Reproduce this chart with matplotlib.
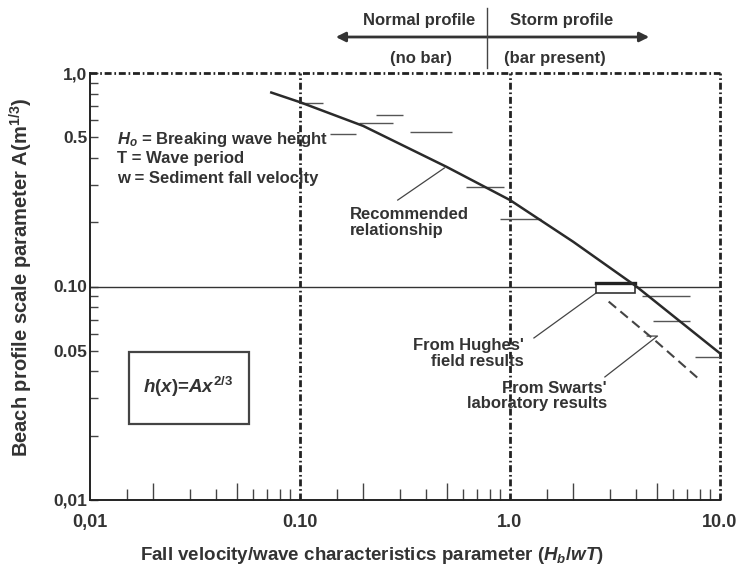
import matplotlib.pyplot as plt
from matplotlib.patches import FancyArrowPatch, Rectangle

plt.rcParams["font.family"] = ["Liberation Sans", "DejaVu Sans"]
plt.rcParams["font.weight"] = "bold"
plt.rcParams["mathtext.fontset"] = "custom"
plt.rcParams["mathtext.rm"] = "Liberation Sans:bold"
plt.rcParams["mathtext.it"] = "Liberation Sans:italic:bold"
plt.rcParams["mathtext.bf"] = "Liberation Sans:bold"
plt.rcParams["lines.scale_dashes"] = False

INK = "#333333"
DASHDOT = (0, (5, 2, 1.2, 2))
W, H = 741, 578

# recommended relationship, A against Hb/wT
curve_x = [0.073, 0.10, 0.20, 0.50, 1.0, 2.0, 4.0, 9.9]
curve_y = [0.81, 0.73, 0.565, 0.363, 0.254, 0.162, 0.100, 0.049]

# data ranges: x from, x to, A
seg_x0 = [0.100, 0.229, 0.192, 0.139, 0.333, 0.62, 0.90, 4.27, 4.8, 7.6]
seg_x1 = [0.128, 0.309, 0.276, 0.184, 0.527, 0.935, 1.40, 7.23, 7.23, 10.0]
seg_y = [0.72, 0.636, 0.583, 0.518, 0.529, 0.292, 0.207, 0.090, 0.069, 0.047]

# Hughes' field box, Swarts' lab line
hughes_x = [2.58, 3.94]
hughes_y = [0.0935, 0.1035]
swarts_x = [2.95, 5.0, 7.9]
swarts_y = [0.085, 0.055, 0.037]

xticks = [0.01, 0.1, 1.0, 10.0]
xtick_labels = ["0,01", "0.10", "1.0", "10.0"]
yticks = [0.01, 0.05, 0.1, 0.5, 1.0]
ytick_labels = ["0,01", "0.05", "0.10", "0.5", "1,0"]
xminor_mult = [1.5, 2, 3, 4, 5, 6, 7, 8, 9]
xminor = [m * d for d in (0.01, 0.1, 1.0) for m in xminor_mult]
xminor_long = [m in (2, 5) for d in (0.01, 0.1, 1.0) for m in xminor_mult]
yminor = [m * d for d in (0.01, 0.1) for m in (2, 3, 4, 6, 7, 8, 9)]


def fxy(px, py):
    return px / W, 1 - py / H


fig = plt.figure(figsize=(W / 100, H / 100), dpi=100)
ax = fig.add_axes([90 / W, 78 / H, 630 / W, 427 / H])
ax.set_xscale("log")
ax.set_yscale("log")
ax.set_xlim(0.01, 10)
ax.set_ylim(0.01, 1.0)

for s in ("top", "right"):
    ax.spines[s].set_visible(False)
for s in ("left", "bottom"):
    ax.spines[s].set_linewidth(1.4)
    ax.spines[s].set_color("#222222")
ax.axhline(1.0, color="#222222", lw=2.0, ls=DASHDOT, clip_on=False)
ax.axvline(10.0, color="#222222", lw=2.0, ls=DASHDOT, clip_on=False)
for xv in (0.1, 1.0):
    ax.axvline(xv, color="#222222", lw=2.0, ls=DASHDOT)
ax.axhline(0.1, color=INK, lw=1.0)

ax.set_xticks(xticks)
ax.set_xticklabels(xtick_labels)
ax.set_xticks(xminor, minor=True)
ax.set_xticklabels([], minor=True)
ax.set_yticks(yticks)
ax.set_yticklabels(ytick_labels)
ax.set_yticks(yminor, minor=True)
ax.set_yticklabels([], minor=True)
ax.tick_params(axis="x", which="major", length=0, pad=10, labelsize=13, colors=INK)
ax.tick_params(axis="x", which="minor", direction="in", length=8, width=1.0, color="#444444")
ax.tick_params(axis="y", which="both", direction="in", length=6, width=1.0, color="#444444",
               pad=2, labelsize=12.5, labelcolor=INK)
for t, is_long in zip(ax.xaxis.get_minor_ticks(), xminor_long):
    if is_long:
        t.tick1line.set_markersize(12.5)

ax.plot(curve_x, curve_y, color="#2a2a2a", lw=1.8, zorder=4)
ax.hlines(seg_y, seg_x0, seg_x1, color="#555555", lw=1.0, zorder=3)
ax.add_patch(Rectangle((hughes_x[0], hughes_y[0]), hughes_x[1] - hughes_x[0],
                       hughes_y[1] - hughes_y[0], facecolor="white", edgecolor="#333333",
                       lw=1.2, zorder=3))
ax.plot(hughes_x, [hughes_y[1]] * 2, color="#222222", lw=2.4, zorder=3)
ax.plot(swarts_x, swarts_y, color="#444444", lw=1.5, ls=(0, (7, 4)), zorder=3)

# leader lines
ax.plot([0.487, 0.292], [0.359, 0.254], color="#444444", lw=0.9)
ax.plot([2.58, 1.30], [0.0935, 0.0574], color="#444444", lw=0.9)
ax.plot([2.83, 5.04, 4.5], [0.0377, 0.0586, 0.0586], color="#444444", lw=0.9)

txt = dict(color=INK, fontsize=12, fontweight="bold")
ax.text(0.0135, 0.486, r"$H_o$ = Breaking wave height", va="center", **txt)
ax.text(0.0135, 0.396, "T = Wave period", va="center", **txt)
ax.text(0.0135, 0.322, "w = Sediment fall velocity", va="center", **txt)
ax.text(0.172, 0.20, "Recommended\nrelationship", ha="left", va="center",
        linespacing=1.05, **txt)
ax.text(1.167, 0.0485, "From Hughes'\nfield results", ha="right", va="center",
        multialignment="right", linespacing=1.05, **txt)
ax.text(2.89, 0.0307, "From Swarts'\nlaboratory results", ha="right", va="center",
        multialignment="right", linespacing=1.05, **txt)

ax.add_patch(Rectangle((0.062, 0.178), 0.19, 0.169, transform=ax.transAxes,
                       facecolor="white", edgecolor="#444444", lw=1.6, zorder=3))
ax.text(0.1556, 0.265, r"$h(x)$=$Ax^{2/3}$", transform=ax.transAxes, ha="center",
        va="center", fontsize=13.5, color=INK, zorder=4)

# profile type arrow above the plot
fig.add_artist(FancyArrowPatch(fxy(333, 37), fxy(652, 37), transform=fig.transFigure,
                               arrowstyle="<|-|>", mutation_scale=14, lw=2.0,
                               color="#333333"))
fig.add_artist(plt.Line2D([487 / W] * 2, [1 - 8 / H, 1 - 68 / H], transform=fig.transFigure,
                          color="#444444", lw=1.0))
fig.text(*fxy(419, 20), "Normal profile", ha="center", va="center", **txt)
fig.text(*fxy(562, 20), "Storm profile", ha="center", va="center", **txt)
fig.text(*fxy(421, 58), "(no bar)", ha="center", va="center", **txt)
fig.text(*fxy(555, 58), "(bar present)", ha="center", va="center", **txt)

fig.text(*fxy(21, 277), r"Beach profile scale parameter A(m$^{1/3}$)", rotation=90,
         ha="center", va="center", fontsize=14.5, color=INK)
fig.text(*fxy(372, 555), r"Fall velocity/wave characteristics parameter ($H_b$/$wT$)",
         ha="center", va="center", fontsize=13.5, color=INK)

fig.savefig("out.png", dpi=100)
